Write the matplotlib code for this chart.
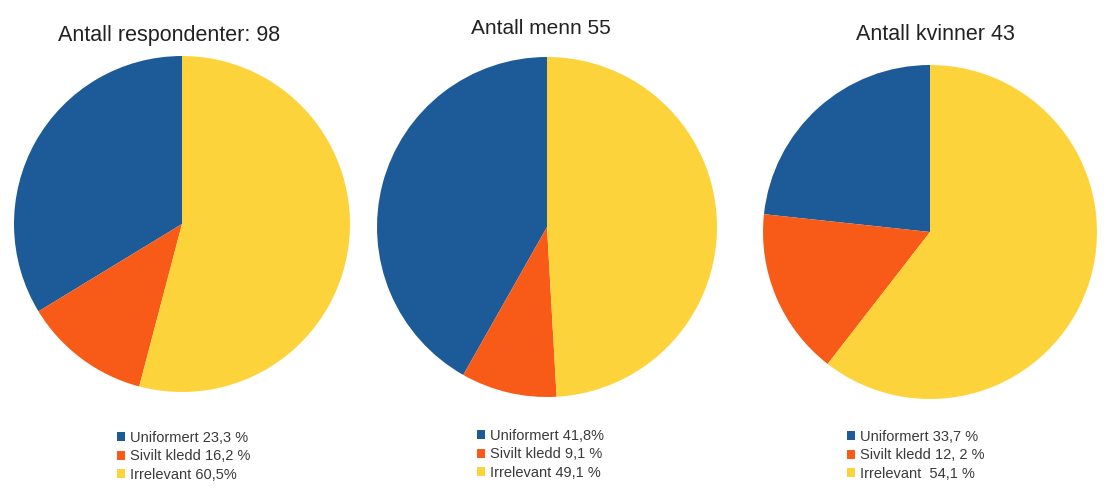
import matplotlib
matplotlib.use("Agg")
import matplotlib.pyplot as plt

# slice shares as drawn in each pie (blue, orange, yellow)
shares_all = [33.7, 12.2, 54.1]
shares_men = [41.8, 9.1, 49.1]
shares_women = [23.3, 16.2, 60.5]

titles = ["Antall respondenter: 98", "Antall menn 55", "Antall kvinner 43"]

legend_all = ["Uniformert 23,3 %", "Sivilt kledd 16,2 %", "Irrelevant 60,5%"]
legend_men = ["Uniformert 41,8%", "Sivilt kledd 9,1 %", "Irrelevant 49,1 %"]
legend_women = ["Uniformert 33,7 %", "Sivilt kledd 12, 2 %", "Irrelevant  54,1 %"]

colors = ["#1d5a98", "#f85a18", "#fdd33c"]

W, H = 1113, 488
fig = plt.figure(figsize=(W/100, H/100), dpi=100)

# pixel layout: pie centre x, centre y, radius, title pos, legend pos
layout = [
    dict(cx=182, cy=224, r=168, tx=169, ty=36, tsize=15.5, lx=117, ly=431),
    dict(cx=547, cy=227, r=170, tx=541, ty=28, tsize=15, lx=477, ly=429),
    dict(cx=930, cy=232, r=167, tx=935, ty=34, tsize=15.5, lx=847, ly=430),
]
data = [shares_all, shares_men, shares_women]
legends = [legend_all, legend_men, legend_women]

for vals, title, labs, L in zip(data, titles, legends, layout):
    ax = fig.add_axes([(L['cx']-L['r'])/W, (H-L['cy']-L['r'])/H, 2*L['r']/W, 2*L['r']/H])
    wedges, _ = ax.pie(vals, colors=colors, startangle=90, counterclock=True,
                       wedgeprops=dict(linewidth=0))
    ax.set_xlim(-1, 1)
    ax.set_ylim(-1, 1)
    ax.axis('off')
    fig.text(L['tx']/W, 1-L['ty']/H, title, ha='center', va='center',
             fontsize=L['tsize'], color='#222222', family='Liberation Sans')
    fig.legend(wedges, labs, loc='upper left', bbox_to_anchor=(L['lx']/W, 1-L['ly']/H),
               frameon=False, handlelength=0.55, handleheight=0.55,
               handletextpad=0.35, labelspacing=0.3, borderpad=0, borderaxespad=0,
               labelcolor='#3a3a3a', prop=dict(family='Liberation Sans', size=10.5))

fig.savefig("out.png", dpi=100)
